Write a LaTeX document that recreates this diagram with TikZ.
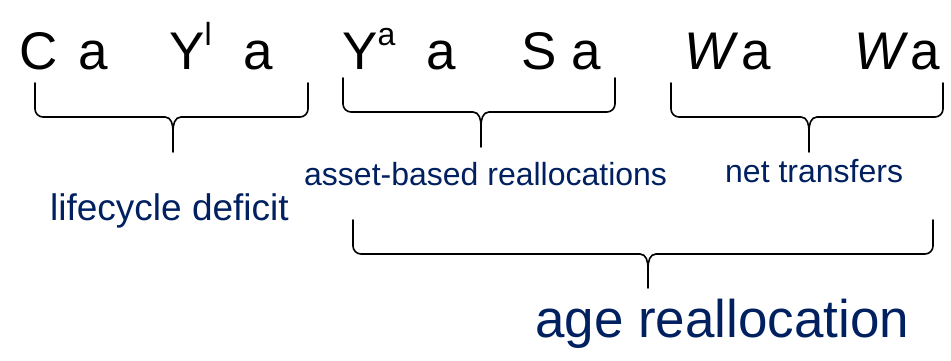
\documentclass[tikz,border=0pt]{standalone}
\usepackage{fontspec}
\setmainfont{Liberation Sans}
\usetikzlibrary{positioning}
\definecolor{agenavy}{RGB}{0,32,96}
\tikzstyle{term} = [anchor=base west, inner sep=0pt, font=\fontsize{53}{53}\selectfont]
\tikzstyle{bracetext} = [anchor=base west, inner sep=0pt, text=agenavy]
\tikzstyle{curly} = [line width=1.6pt, line cap=round, line join=round]
\newcommand{\upidx}[1]{\raisebox{24pt}{\fontsize{32}{32}\selectfont #1}}
% brace: left x, right x, tip x, top y, flat y, bottom y
\newcommand{\agebrace}[6]{%
  \draw[curly] (#1,#4) -- (#1,#5-8) to[out=-90,in=180] (#1+8,#5) -- (#3-8,#5) to[out=0,in=90] (#3,#5+14) -- (#3,#6);
  \draw[curly] (#2,#4) -- (#2,#5-8) to[out=-90,in=0] (#2-8,#5) -- (#3+8,#5) to[out=180,in=90] (#3,#5+14);
}

\begin{document}
\begin{tikzpicture}[x=1pt, y=-1pt]
\useasboundingbox (0,0) rectangle (951,361);

% Equation terms
\foreach \x/\t [count=\i] in {19/C, 78/a, 169/{Y\upidx{l}}, 243/a, 342/{Y\upidx{a}}, 426/a, 521/S, 571/a, 684/{\itshape W}, 741/a, 854/{\itshape W}, 910/a}
  \node[term] (t\i) at (\x,70) {\t};

% Braces under the terms
\agebrace{35}{308}{173}{83}{117}{152}
\agebrace{343}{615}{481}{78}{112}{147}
\agebrace{671}{943}{809}{83}{117}{152}

% Small labels
\node[bracetext, font=\fontsize{37}{37}\selectfont] (life) at (50,220) {lifecycle deficit};
\node[bracetext, font=\fontsize{32}{32}\selectfont] (asset) at (304,185) {asset-based reallocations};
\node[bracetext, font=\fontsize{32}{32}\selectfont] (transfer) at (725,182) {net transfers};

% Big brace and label
\agebrace{353}{933}{648}{220}{254}{288}
\node[bracetext, font=\fontsize{53}{53}\selectfont] (realloc) at (535,337) {age reallocation};
\end{tikzpicture}
\end{document}
